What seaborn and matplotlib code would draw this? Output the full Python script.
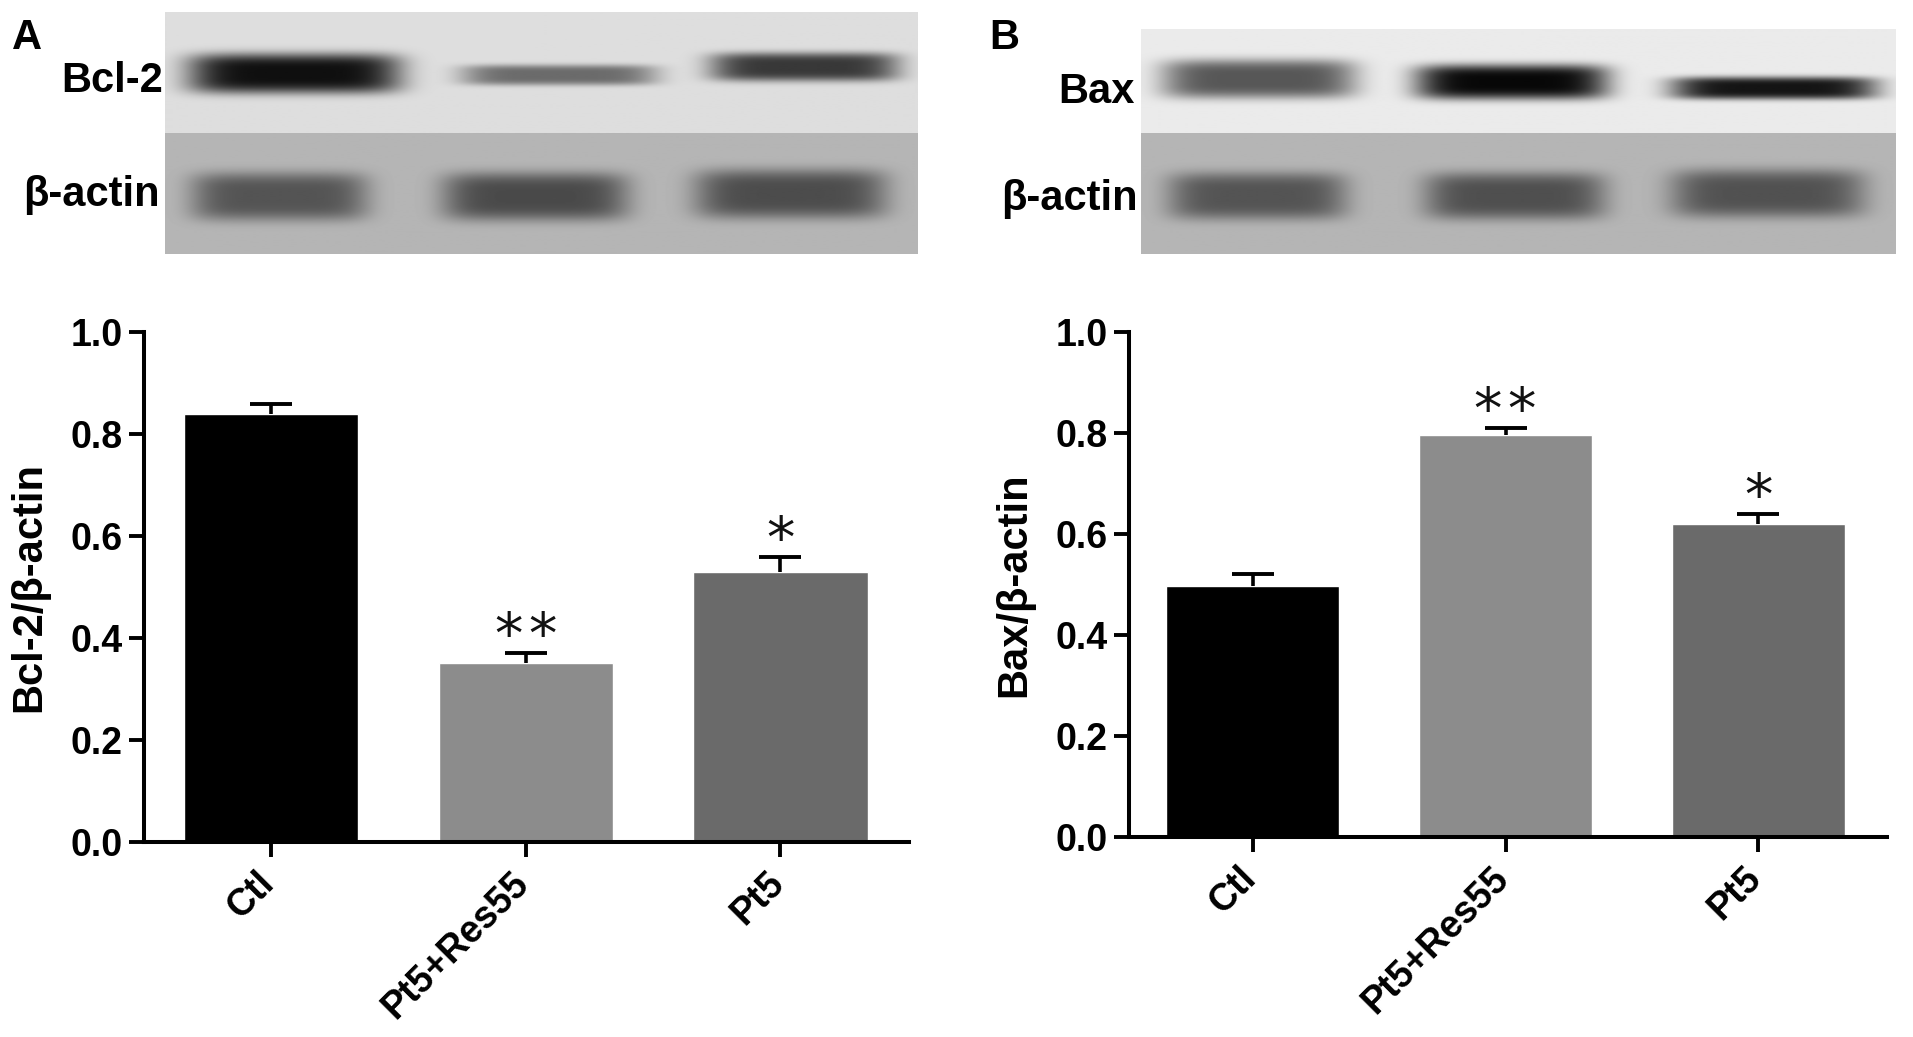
import numpy as np
import matplotlib
matplotlib.use("Agg")
import matplotlib.pyplot as plt
import matplotlib.transforms as mtrans
import seaborn as sns

W, H = 1913, 1037

categories = ["Ctl", "Pt5+Res55", "Pt5"]
bar_colors = ["#000000", "#8c8c8c", "#6a6a6a"]
y_ticks = [0.0, 0.2, 0.4, 0.6, 0.8, 1.0]

bcl2_means = [0.84, 0.35, 0.53]
bcl2_tops = [0.859, 0.371, 0.558]
bax_means = [0.496, 0.795, 0.62]
bax_tops = [0.52, 0.81, 0.639]
# hair space between the two stars
bcl2_stars = ["", "*\u200a*", "*"]
bax_stars = ["", "*\u200a*", "*"]

# blots: band darkness per lane
bcl2_grey = [0.06, 0.42, 0.22]
bax_grey = [0.34, 0.03, 0.08]
actin_a_grey = [0.33, 0.29, 0.30]
actin_b_grey = [0.33, 0.31, 0.32]

sns.set_theme(style="ticks")
plt.rcParams["font.family"] = ["Liberation Sans", "DejaVu Sans"]
plt.rcParams["font.weight"] = "bold"

fig = plt.figure(figsize=(W / 100 + 0.001, H / 100 + 0.001), dpi=100, facecolor="white")


def px_axes(left, top, right, bottom):
    return fig.add_axes([left / W, 1 - bottom / H, (right - left) / W, (bottom - top) / H])


def blot(left, top, right, bottom, bg, bands):
    # soft edged bands on a flat grey strip
    ax = px_axes(left, top, right, bottom)
    xx, yy = np.meshgrid(np.arange(left, right), np.arange(top, bottom))
    img = np.full(xx.shape, bg, dtype=float)
    for x0, x1, y0, y1, grey in bands:
        cx, cy = (x0 + x1) / 2, (y0 + y1) / 2
        hw, hh = (x1 - x0) / 2, (y1 - y0) / 2
        d = (np.abs(xx - cx) / hw) ** 6 + (np.abs(yy - cy) / hh) ** 4
        img -= (bg - grey) * np.exp(-d)
    ax.imshow(img, cmap="gray", vmin=0, vmax=1, aspect="auto")
    ax.axis("off")


def bar_panel(left, top, right, bottom, xlim, means, tops, stars, ylabel):
    ax = px_axes(left, top, right, bottom)
    sns.barplot(x=categories, y=means, hue=categories, palette=bar_colors, legend=False,
                width=0.684, saturation=1, ax=ax)
    eb = ax.errorbar(range(3), means, yerr=[np.zeros(3), np.array(tops) - np.array(means)],
                     fmt="none", ecolor="black", elinewidth=2.6, capsize=15, capthick=2.8, zorder=4)
    eb[1][0].set_visible(False)
    for i, s in enumerate(stars):
        ax.text(i, tops[i] + 0.031, s, ha="center", va="center", fontsize=41,
                fontweight="normal", family="DejaVu Sans", color="#111111")
    ax.set_xlim(*xlim)
    ax.set_ylim(0, 1)
    ax.set_yticks(y_ticks)
    ax.set_yticklabels([f"{t:.1f}" for t in y_ticks], fontsize=27, fontweight="bold")
    ax.set_ylabel(ylabel, fontsize=30, fontweight="bold", labelpad=15, color="black")
    ax.tick_params(axis="both", length=10.5, width=2.8, color="black", labelcolor="black", pad=6)
    ax.tick_params(axis="y", pad=5)
    plt.setp(ax.get_xticklabels(), rotation=45, ha="right", va="top", rotation_mode="anchor",
             fontsize=27, fontweight="bold")
    shift = mtrans.ScaledTranslation(-15 / 100, 0, fig.dpi_scale_trans)
    for lab in ax.get_xticklabels():
        lab.set_transform(lab.get_transform() + shift)
    sns.despine(ax=ax)
    for side in ["left", "bottom"]:
        ax.spines[side].set_linewidth(2.9)
        ax.spines[side].set_color("black")
        ax.spines[side].set_zorder(5)
    return ax


def put(x, y, s, size, ha="right"):
    fig.text(x / W, 1 - y / H, s, fontsize=size, fontweight="bold", ha=ha, va="center", color="black")


# Panel A
blot(165, 12, 917, 133, 0.87, [(188, 400, 54, 93, bcl2_grey[0]),
                               (461, 655, 65, 85, bcl2_grey[1]),
                               (709, 897, 53, 81, bcl2_grey[2])])
blot(165, 133, 917, 254, 0.71, [(191, 367, 173, 220, actin_a_grey[0]),
                                (442, 627, 173, 220, actin_a_grey[1]),
                                (694, 885, 170, 218, actin_a_grey[2])])
bar_panel(144, 332, 909, 842, (-0.5, 2.505), bcl2_means, bcl2_tops, bcl2_stars, "Bcl-2/β-actin")
put(12, 38, "A", 30, ha="left")
put(163, 81, "Bcl-2", 30)
put(160, 195, "β-actin", 30)

# Panel B
blot(1141, 29, 1895, 133, 0.92, [(1162, 1355, 60, 98, bax_grey[0]),
                                 (1415, 1607, 65, 99, bax_grey[1]),
                                 (1670, 1875, 77, 99, bax_grey[2])])
blot(1141, 133, 1895, 254, 0.71, [(1168, 1346, 173, 219, actin_b_grey[0]),
                                  (1424, 1604, 173, 219, actin_b_grey[1]),
                                  (1670, 1863, 170, 217, actin_b_grey[2])])
bar_panel(1129, 332, 1887, 837, (-0.49, 2.51), bax_means, bax_tops, bax_stars, "Bax/β-actin")
put(989, 38, "B", 30, ha="left")
put(1135, 92, "Bax", 30)
put(1138, 199, "β-actin", 30)

fig.savefig("out.png", dpi=100, facecolor="white")
